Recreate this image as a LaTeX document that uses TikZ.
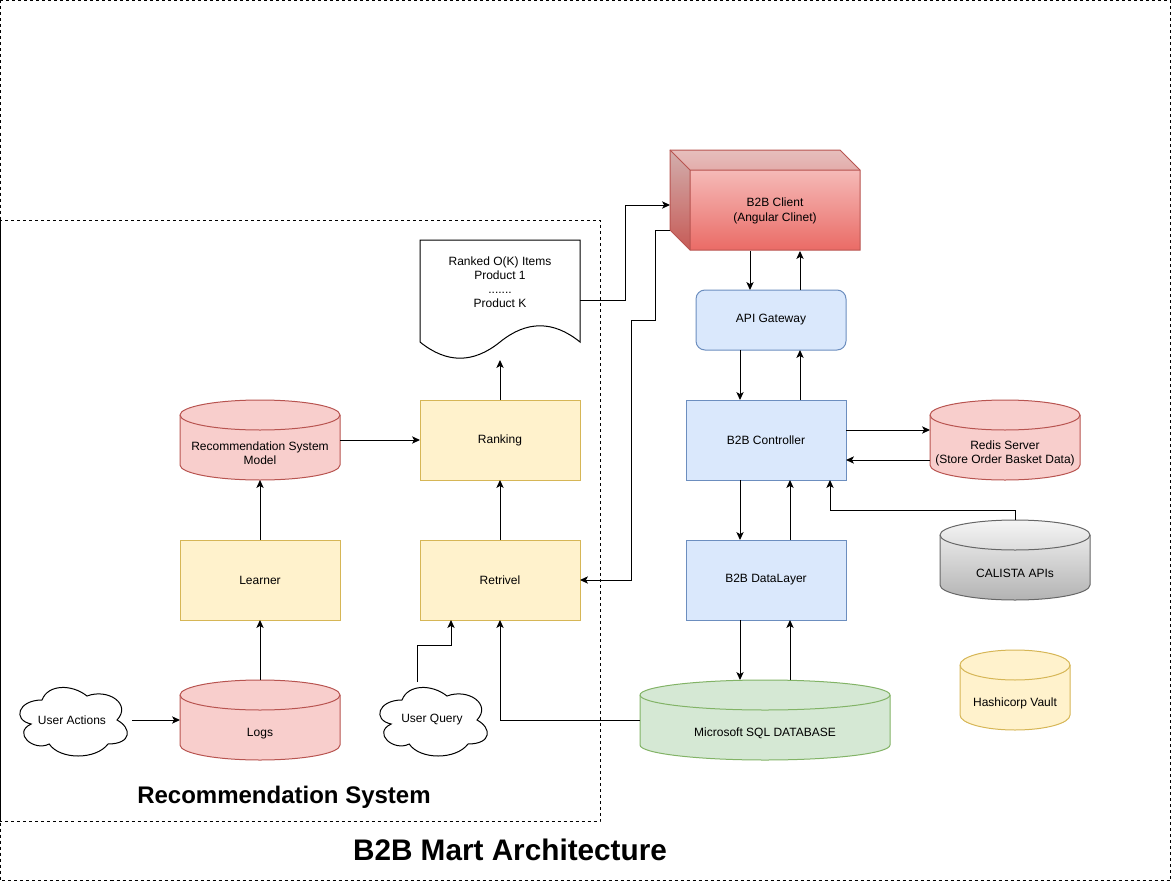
\documentclass[tikz,border=0pt]{standalone}
\usepackage{fontspec}
\setmainfont{Liberation Sans}
\usetikzlibrary{arrows.meta,calc}
\definecolor{redfill}{HTML}{F8CECC}
\definecolor{redline}{HTML}{B85450}
\definecolor{redgrad}{HTML}{EA6B66}
\definecolor{bluefill}{HTML}{DAE8FC}
\definecolor{blueline}{HTML}{6C8EBF}
\definecolor{yelfill}{HTML}{FFF2CC}
\definecolor{yelline}{HTML}{D6B656}
\definecolor{grnfill}{HTML}{D5E8D4}
\definecolor{grnline}{HTML}{82B366}
\definecolor{grayfill}{HTML}{F5F5F5}
\definecolor{graygrad}{HTML}{B3B3B3}
\definecolor{grayline}{HTML}{666666}
% cylinder: #1 name, #2 x1, #3 y1, #4 x2, #5 y2, #6 fill spec, #7 line colour, #8 text
\newcommand{\dbcyl}[8]{%
  \pgfmathsetmacro\cyX{(#2+#4)/2}%
  \pgfmathsetmacro\cyY{(#3+#5)/2}%
  \pgfmathsetmacro\cyK{0.5523*(#4-#2)/2}%
  \pgfmathsetmacro\cyQ{0.5523*15}%
  \path[#6,draw=#7] (#2,#3+15) -- (#2,#5-15)
     .. controls (#2,#5-15+\cyQ) and (\cyX-\cyK,#5) .. (\cyX,#5)
     .. controls (\cyX+\cyK,#5) and (#4,#5-15+\cyQ) .. (#4,#5-15)
     -- (#4,#3+15)
     .. controls (#4,#3+15-\cyQ) and (\cyX+\cyK,#3) .. (\cyX,#3)
     .. controls (\cyX-\cyK,#3) and (#2,#3+15-\cyQ) .. (#2,#3+15) -- cycle;
  \draw[#7] (#2,#3+15)
     .. controls (#2,#3+15+\cyQ) and (\cyX-\cyK,#3+30) .. (\cyX,#3+30)
     .. controls (\cyX+\cyK,#3+30) and (#4,#3+15+\cyQ) .. (#4,#3+15);
  \node[inner sep=0pt, outer sep=0pt, minimum width={(#4-#2)*0.75pt}, minimum height={(#5-#3)*0.75pt}] (#1) at (\cyX,\cyY) {};
  \node[align=center] (#1-text) at (\cyX,\cyY+13.5) {#8};
}
% cloud: #1 name, #2 x, #3 y (box 120x80), #4 text
\newcommand{\cloudshape}[4]{%
  \begin{scope}[shift={(#2,#3)}]
  \draw[fill=white] (30,20) .. controls (6,20) and (0,40) .. (19.2,44)
    .. controls (0,52.8) and (21.6,72) .. (37.2,64)
    .. controls (48,80) and (84,80) .. (96,64)
    .. controls (120,64) and (120,48) .. (105,40)
    .. controls (120,24) and (96,8) .. (75,16)
    .. controls (60,4) and (36,4) .. (30,20) -- cycle;
  \node[inner sep=0pt, outer sep=0pt, minimum width=90pt, minimum height=60pt] (#1) at (60,40) {#4};
  \end{scope}
}
\tikzset{
  box/.style={rectangle, draw, outer sep=0pt, align=center, minimum width=120pt, minimum height=60pt},
  bluebox/.style={box, fill=bluefill, draw=blueline},
  yelbox/.style={box, fill=yelfill, draw=yelline},
  arr/.style={-{Stealth[length=6pt,width=5.5pt,inset=1.6pt]}},
  frame/.style={dash pattern=on 2.25pt off 2.25pt}
}
\begin{document}
\begin{tikzpicture}[x=0.75pt, y=-0.75pt, line width=0.75pt, font=\fontsize{9}{10.8}\selectfont]
\useasboundingbox (0,0) rectangle (1171,881);
% frames
\draw[frame] (0.5,0.5) rectangle (1170.5,880.5);
\draw[frame] (0.5,220) rectangle (600,821);

% helper coordinates
\coordinate (x740) at (740,0);
\coordinate (x750) at (750,0);
\coordinate (x790) at (790,0);
\coordinate (x800) at (800,0);
\coordinate (x830) at (830,0);
\coordinate (y430) at (0,430);
\coordinate (y460) at (0,460);

% B2B client cube
\path[top color=redfill, bottom color=redgrad] (670,150) -- (840,150) -- (860,170) -- (860,250) -- (690,250) -- (670,230) -- cycle;
\fill[black, opacity=0.07] (670,150) -- (840,150) -- (860,170) -- (690,170) -- cycle;
\fill[black, opacity=0.15] (670,150) -- (690,170) -- (690,250) -- (670,230) -- cycle;
\draw[redline] (670,150) -- (840,150) -- (860,170) -- (860,250) -- (690,250) -- (670,230) -- cycle;
\draw[redline] (670,150) -- (690,170) -- (860,170) (690,170) -- (690,250);
\node[inner sep=0pt, outer sep=0pt, minimum width=127.5pt, minimum height=60pt, align=center] (client) at (775,211) {B2B Client\\(Angular Clinet)};
\coordinate (cback1) at (670,205);
\coordinate (cback2) at (670,230);

% right column
\node[bluebox, minimum width=112.5pt, minimum height=45pt, rounded corners=6.75pt] (api) at (771,320) {API Gateway};
\node[bluebox] (ctrl) at (766,440) {B2B Controller};
\node[bluebox] (dl) at (766,580) {B2B DataLayer};
\dbcyl{redis}{930}{400}{1080}{480}{fill=redfill}{redline}{Redis Server\\(Store Order Basket Data)}
\dbcyl{cal}{940}{520}{1090}{600}{top color=grayfill, bottom color=graygrad}{grayline}{CALISTA APIs}
\dbcyl{vault}{960}{650}{1070}{730}{fill=yelfill}{yelline}{Hashicorp Vault}
\dbcyl{sql}{640}{680}{890}{760}{fill=grnfill}{grnline}{Microsoft SQL DATABASE}

% recommendation system
\dbcyl{model}{180}{400}{340}{480}{fill=redfill}{redline}{Recommendation System\\Model}
\dbcyl{logs}{180}{680}{340}{760}{fill=redfill}{redline}{Logs}
\node[yelbox] (rank) at (500,440) {Ranking};
\node[yelbox] (learn) at (260,580) {Learner};
\node[yelbox] (retr) at (500,580) {Retrivel};
\cloudshape{uact}{12}{680}{User Actions}
\cloudshape{uq}{372}{680}{User Query}
\coordinate (uqtop) at (417,682);

% document
\draw[fill=white] (420,240) -- (580,240) -- (580,342)
  .. controls (553.33,320.4) and (526.67,320.4) .. (500,342)
  .. controls (473.33,363.6) and (446.67,363.6) .. (420,342) -- cycle;
\node[inner sep=0pt, outer sep=0pt, minimum width=120pt, minimum height=90pt] (doc) at (500,300) {};
\node[align=center, font=\fontsize{9}{10.5}\selectfont] (doctext) at (500,282) {Ranked O(K) Items\\Product 1\\.......\\Product K};

% connectors
\draw[arr] (uact.east) -- (logs.west);
\draw[arr] (logs.north) -- (learn.south);
\draw[arr] (learn.north) -- (model.south);
\draw[arr] (model.east) -- (rank.west);
\draw[arr] (retr.north) -- (rank.south);
\draw[arr] (rank.north) -- (doc.south);
\draw[arr] (uqtop) |- ($(retr.south)+(-49,25)$) -- ($(retr.south)+(-49,0)$);
\draw[arr] (sql.west) -| (retr.south);
\draw[arr] (doc.east) -- ++(45,0) |- (cback1);
\draw[arr] (cback2) -- ++(-15,0) -- ++(0,90) -- ++(-24,0) |- (retr.east);

\draw[arr] (client.south -| x750) -- (api.north -| x750);
\draw[arr] (api.north -| x800) -- (client.south -| x800);
\draw[arr] (api.south -| x740) -- (ctrl.north -| x740);
\draw[arr] (ctrl.north -| x800) -- (api.south -| x800);
\draw[arr] (ctrl.south -| x740) -- (dl.north -| x740);
\draw[arr] (dl.north -| x790) -- (ctrl.south -| x790);
\draw[arr] (dl.south -| x740) -- (sql.north -| x740);
\draw[arr] (sql.north -| x790) -- (dl.south -| x790);
\draw[arr] (ctrl.east |- y430) -- (redis.west |- y430);
\draw[arr] (redis.west |- y460) -- (ctrl.east |- y460);
\draw[arr] (cal.north) -- ++(0,-10) -| (ctrl.south -| x830);

% titles
\node[anchor=base, font=\bfseries\fontsize{18}{21}\selectfont] (rstitle) at (284,803) {Recommendation System};
\node[anchor=base, font=\bfseries\fontsize{22.3}{26}\selectfont] (title) at (510,860) {B2B Mart Architecture};
\end{tikzpicture}
\end{document}
